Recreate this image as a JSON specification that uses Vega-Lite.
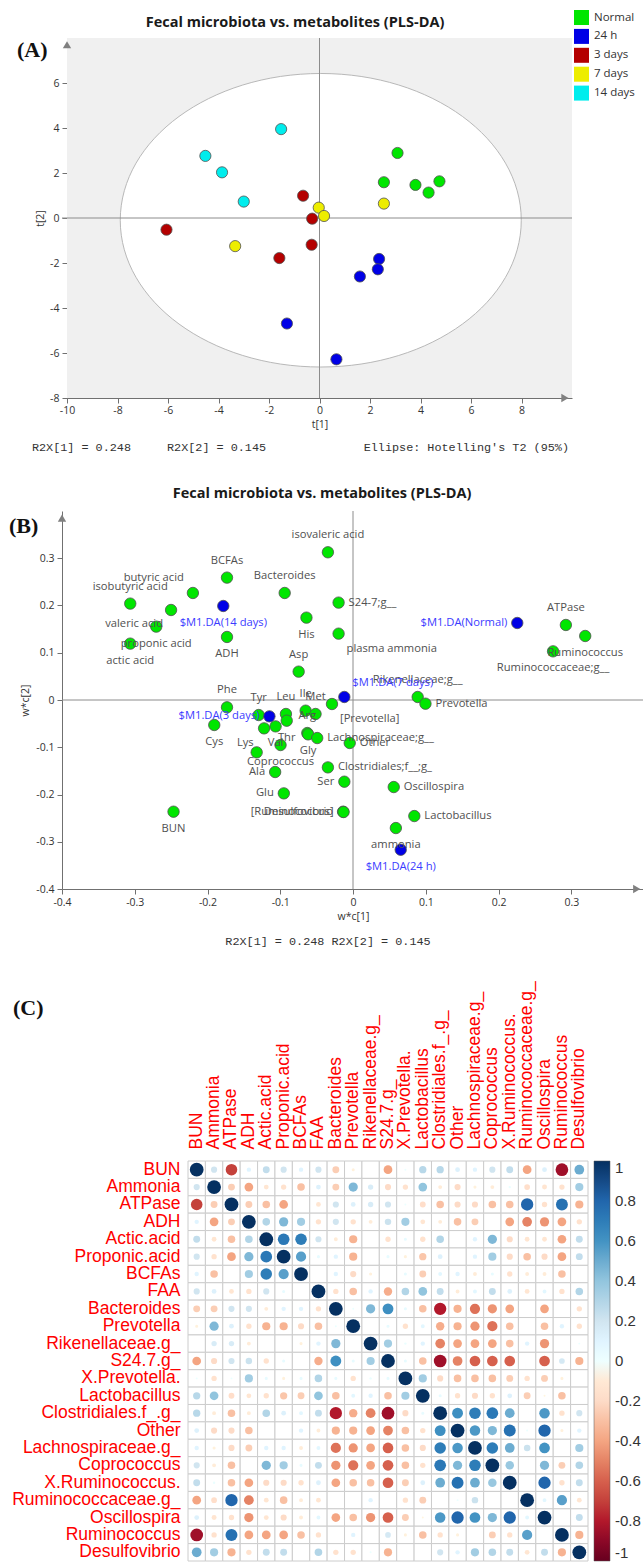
{
"$schema": "https://vega.github.io/schema/vega-lite/v6.json",
"padding": {"left": 8, "top": 10, "right": 0, "bottom": 0},
"config": {"view": {"stroke": null}, "axis": {"grid": false}, "font": "Open Sans"},
"columns": 1,
"align": "none",
"spacing": 32,
"concat": [
{
 "width": 510, "height": 360,
 "title": {"text": "Fecal microbiota vs. metabolites  (PLS-DA)", "font": "Open Sans", "fontSize": 14.5, "fontWeight": "bold", "color": "#1a1a1a", "anchor": "middle", "dx": -22, "dy": 29, "offset": 9},
 "layer": [
  {"data": {"values": [{}]}, "mark": {"type": "rect", "fill": "#f0f0f0"}, "encoding": {"x": {"datum": -10, "type": "quantitative"}, "x2": {"datum": 10}, "y": {"datum": -8, "type": "quantitative"}, "y2": {"datum": 8}}},
  {"data": {"values": [{}]}, "mark": {"type": "point", "shape": "M-1,0C-1,-0.404,-0.552,-0.732,0,-0.732C0.552,-0.732,1,-0.404,1,0C1,0.404,0.552,0.732,0,0.732C-0.552,0.732,-1,0.404,-1,0Z", "size": 160801, "filled": true, "fill": "white", "stroke": "#b8b8b8", "strokeWidth": 1, "opacity": 1}, "encoding": {"x": {"datum": 0.05, "type": "quantitative"}, "y": {"datum": -0.1, "type": "quantitative"}}},
  {"data": {"values": [{}]}, "mark": {"type": "rule", "color": "#8c8c8c", "strokeWidth": 1}, "encoding": {"x": {"datum": 0, "type": "quantitative"}}},
  {"data": {"values": [{}]}, "mark": {"type": "rule", "color": "#8c8c8c", "strokeWidth": 1}, "encoding": {"y": {"datum": 0, "type": "quantitative"}}},
  {"data": {"values": [
   {"grp":"Normal","t1":3.09,"t2":2.89},{"grp":"Normal","t1":2.55,"t2":1.59},{"grp":"Normal","t1":3.8,"t2":1.47},{"grp":"Normal","t1":4.32,"t2":1.13},{"grp":"Normal","t1":4.75,"t2":1.63},
   {"grp":"24 h","t1":2.36,"t2":-1.82},{"grp":"24 h","t1":2.31,"t2":-2.28},{"grp":"24 h","t1":1.6,"t2":-2.6},{"grp":"24 h","t1":-1.29,"t2":-4.69},{"grp":"24 h","t1":0.67,"t2":-6.28},
   {"grp":"3 days","t1":-0.65,"t2":0.99},{"grp":"3 days","t1":-0.29,"t2":-0.03},{"grp":"3 days","t1":-6.06,"t2":-0.52},{"grp":"3 days","t1":-0.31,"t2":-1.19},{"grp":"3 days","t1":-1.59,"t2":-1.78},
   {"grp":"7 days","t1":-0.03,"t2":0.46},{"grp":"7 days","t1":0.18,"t2":0.09},{"grp":"7 days","t1":2.55,"t2":0.64},{"grp":"7 days","t1":-3.34,"t2":-1.25},
   {"grp":"14 days","t1":-1.52,"t2":3.95},{"grp":"14 days","t1":-4.52,"t2":2.76},{"grp":"14 days","t1":-3.86,"t2":2.03},{"grp":"14 days","t1":-3.0,"t2":0.73}
  ]},
  "mark": {"type": "point", "filled": true, "size": 125, "opacity": 1, "stroke": "#505050", "strokeWidth": 0.8},
  "encoding": {
   "x": {"field": "t1", "type": "quantitative", "title": "t[1]", "scale": {"domain": [-10, 10], "range": [5, 510], "nice": false, "zero": false},
    "axis": {"title": "t[1]", "values": [-10,-9,-8,-7,-6,-5,-4,-3,-2,-1,0,1,2,3,4,5,6,7,8,9], "labelExpr": "datum.value % 2 == 0 ? '' + datum.value : ''", "tickSize": {"condition": {"test": "datum.value % 2 == 0", "value": 5}, "value": 3}, "labelFlush": false, "labelOverlap": false, "domainColor": "#707070", "tickColor": "#707070", "labelColor": "#333333", "labelFont": "Open Sans", "labelFontSize": 10.5, "titleFont": "Open Sans", "titleFontSize": 10.5, "titleFontWeight": "normal", "titleColor": "#333333", "labelPadding": 2, "titlePadding": 4}},
   "y": {"field": "t2", "type": "quantitative", "title": "t[2]", "scale": {"domain": [-8, 8], "nice": false, "zero": false},
    "axis": {"title": "t[2]", "offset": -5, "values": [-8,-7,-6,-5,-4,-3,-2,-1,0,1,2,3,4,5,6,7], "labelExpr": "datum.value % 2 == 0 ? '' + datum.value : ''", "tickSize": {"condition": {"test": "datum.value % 2 == 0", "value": 5}, "value": 3}, "labelFlush": false, "labelOverlap": false, "domainColor": "#707070", "tickColor": "#707070", "labelColor": "#333333", "labelFont": "Open Sans", "labelFontSize": 10.5, "titleFont": "Open Sans", "titleFontSize": 10.5, "titleFontWeight": "normal", "titleColor": "#333333", "labelPadding": 3, "titlePadding": 4}},
   "color": {"field": "grp", "type": "nominal", "scale": {"domain": ["Normal","24 h","3 days","7 days","14 days"], "range": ["#00e600","#0000e6","#b40000","#eded00","#00eded"]},
    "legend": {"title": null, "orient": "none", "legendX": 512, "legendY": -28, "symbolType": "square", "symbolSize": 225, "symbolStrokeWidth": 0, "symbolOpacity": 1, "labelFont": "Open Sans", "labelFontSize": 11.5, "labelColor": "#333333", "rowPadding": 3.9, "labelOffset": 5}}
  }},
  {"data": {"values": [{}]}, "mark": {"type": "point", "shape": "triangle-right", "filled": true, "size": 70, "color": "#808080", "opacity": 1}, "encoding": {"x": {"datum": 9.72, "type": "quantitative"}, "y": {"datum": -8, "type": "quantitative"}}},
  {"data": {"values": [{}]}, "mark": {"type": "point", "shape": "triangle-up", "filled": true, "size": 70, "color": "#808080", "opacity": 1}, "encoding": {"x": {"datum": -10, "type": "quantitative"}, "y": {"datum": 7.7, "type": "quantitative"}}},
  {"data": {"values": [{}]}, "mark": {"type": "text", "text": "(A)", "font": "Liberation Serif", "fontSize": 22, "fontWeight": "bold", "align": "left", "baseline": "middle", "color": "#111111"}, "encoding": {"x": {"datum": -11.98, "type": "quantitative"}, "y": {"datum": 7.45, "type": "quantitative"}}},
  {"data": {"values": [{}]}, "mark": {"type": "text", "text": "R2X[1] = 0.248", "font": "Liberation Mono", "fontSize": 11.8, "align": "left", "baseline": "middle", "color": "#333333"}, "encoding": {"x": {"datum": -11.39, "type": "quantitative"}, "y": {"datum": -10.18, "type": "quantitative"}}},
  {"data": {"values": [{}]}, "mark": {"type": "text", "text": "R2X[2] = 0.145", "font": "Liberation Mono", "fontSize": 11.8, "align": "left", "baseline": "middle", "color": "#333333"}, "encoding": {"x": {"datum": -6.04, "type": "quantitative"}, "y": {"datum": -10.18, "type": "quantitative"}}},
  {"data": {"values": [{}]}, "mark": {"type": "text", "text": "Ellipse: Hotelling's T2 (95%)", "font": "Liberation Mono", "fontSize": 11.8, "align": "right", "baseline": "middle", "color": "#333333"}, "encoding": {"x": {"datum": 9.88, "type": "quantitative"}, "y": {"datum": -10.18, "type": "quantitative"}}}
 ]
},
{
 "width": 582, "height": 378,
 "title": {"text": "Fecal microbiota vs. metabolites  (PLS-DA)", "font": "Open Sans", "fontSize": 14.5, "fontWeight": "bold", "color": "#1a1a1a", "anchor": "middle", "dx": -31, "offset": 9},
 "data": {"values": [
  {"n":"isovaleric acid","x":-0.0345,"y":0.3126,"g":"v","s":"above"},
  {"n":"BCFAs","x":-0.1732,"y":0.259,"g":"v","s":"above"},
  {"n":"Bacteroides","x":-0.0939,"y":0.2265,"g":"v","s":"above"},
  {"n":"S24-7;g__","x":-0.0198,"y":0.2061,"g":"v","s":"right"},
  {"n":"His","x":-0.064,"y":0.1743,"g":"v","s":"below"},
  {"n":"plasma ammonia","x":-0.0198,"y":0.1404,"g":"v","s":"belowright"},
  {"n":"ADH","x":-0.1732,"y":0.1334,"g":"v","s":"below"},
  {"n":"Asp","x":-0.0747,"y":0.06,"g":"v","s":"above"},
  {"n":"isobutyric acid","x":-0.3062,"y":0.204,"g":"v","s":"above"},
  {"n":"butyric acid","x":-0.2201,"y":0.2265,"g":"v","s":"aboveleft"},
  {"n":"valeric acid","x":-0.2501,"y":0.1905,"g":"v","s":"belowleft"},
  {"n":"proponic acid","x":-0.2705,"y":0.1553,"g":"v","s":"below"},
  {"n":"actic acid","x":-0.3062,"y":0.1193,"g":"v","s":"below"},
  {"n":"ATPase","x":0.2926,"y":0.1588,"g":"v","s":"above"},
  {"n":"Ruminococcus","x":0.3192,"y":0.1355,"g":"v","s":"below"},
  {"n":"Ruminococcaceae;g__","x":0.275,"y":0.103,"g":"v","s":"below"},
  {"n":"Rikenellaceae;g__","x":0.0889,"y":0.0064,"g":"v","s":"above"},
  {"n":"Prevotella","x":0.0996,"y":-0.0078,"g":"v","s":"right"},
  {"n":"Phe","x":-0.1732,"y":-0.0155,"g":"v","s":"above"},
  {"n":"Cys","x":-0.1907,"y":-0.0529,"g":"v","s":"below"},
  {"n":"Tyr","x":-0.1296,"y":-0.0318,"g":"v","s":"above"},
  {"n":"Leu","x":-0.0922,"y":-0.0296,"g":"v","s":"above"},
  {"n":"Thr","x":-0.0911,"y":-0.0438,"g":"v","s":"below"},
  {"n":"Ile","x":-0.0651,"y":-0.0226,"g":"v","s":"above"},
  {"n":"Met","x":-0.0515,"y":-0.0296,"g":"v","s":"above"},
  {"n":"[Prevotella]","x":-0.0289,"y":-0.0085,"g":"v","s":"belowright"},
  {"n":"","x":-0.1222,"y":-0.06,"g":"v","s":"none"},
  {"n":"Val","x":-0.1064,"y":-0.0558,"g":"v","s":"below"},
  {"n":"Coprococcus","x":-0.0996,"y":-0.0953,"g":"v","s":"below"},
  {"n":"Arg","x":-0.0628,"y":-0.0699,"g":"v","s":"above"},
  {"n":"Gly","x":-0.0617,"y":-0.0727,"g":"v","s":"below"},
  {"n":"Lachnospiraceae;g__","x":-0.0492,"y":-0.0805,"g":"v","s":"right"},
  {"n":"Lys","x":-0.1324,"y":-0.1108,"g":"v","s":"upleft"},
  {"n":"Other","x":-0.0045,"y":-0.091,"g":"v","s":"right"},
  {"n":"Clostridiales;f__;g_","x":-0.0345,"y":-0.1426,"g":"v","s":"right"},
  {"n":"Ala","x":-0.107,"y":-0.1524,"g":"v","s":"left"},
  {"n":"Ser","x":-0.0119,"y":-0.1729,"g":"v","s":"left"},
  {"n":"Oscillospira","x":0.056,"y":-0.1842,"g":"v","s":"right"},
  {"n":"Glu","x":-0.0951,"y":-0.1976,"g":"v","s":"left"},
  {"n":"BUN","x":-0.2467,"y":-0.2364,"g":"v","s":"below"},
  {"n":"Desulfovibrio","x":-0.0136,"y":-0.2364,"g":"v","s":"left"},
  {"n":"[Ruminococcus]","x":-0.013,"y":-0.2371,"g":"v","s":"left"},
  {"n":"Lactobacillus","x":0.0843,"y":-0.2456,"g":"v","s":"right"},
  {"n":"ammonia","x":0.0589,"y":-0.271,"g":"v","s":"below"},
  {"n":"$M1.DA(14 days)","x":-0.1783,"y":0.199,"g":"c","s":"below"},
  {"n":"$M1.DA(Normal)","x":0.2258,"y":0.163,"g":"c","s":"left"},
  {"n":"$M1.DA(7 days)","x":-0.0119,"y":0.0064,"g":"c","s":"aboveright"},
  {"n":"$M1.DA(3 days)","x":-0.1149,"y":-0.0346,"g":"c","s":"left"},
  {"n":"$M1.DA(24 h)","x":0.0656,"y":-0.3169,"g":"c","s":"below"}
 ]},
 "layer": [
  {"data": {"values": [{}]}, "mark": {"type": "rule", "color": "#8c8c8c", "strokeWidth": 1}, "encoding": {"x": {"datum": 0, "type": "quantitative"}}},
  {"data": {"values": [{}]}, "mark": {"type": "rule", "color": "#8c8c8c", "strokeWidth": 1}, "encoding": {"y": {"datum": 0, "type": "quantitative"}}},
  {"mark": {"type": "point", "filled": true, "size": 130, "opacity": 1, "stroke": "#505050", "strokeWidth": 0.8},
   "encoding": {
    "x": {"field": "x", "type": "quantitative", "title": "w*c[1]", "scale": {"domain": [-0.4, 0.4], "nice": false, "zero": false},
     "axis": {"title": "w*c[1]", "values": [-0.4,-0.35,-0.3,-0.25,-0.2,-0.15,-0.1,-0.05,0,0.05,0.1,0.15,0.2,0.25,0.3,0.35], "labelExpr": "abs(round(datum.value*100)) % 10 == 0 ? '' + round(datum.value*10)/10 : ''", "tickSize": {"condition": {"test": "abs(round(datum.value*100)) % 10 == 0", "value": 5}, "value": 3}, "labelFlush": false, "labelOverlap": false, "domainColor": "#707070", "tickColor": "#707070", "labelColor": "#333333", "labelFont": "Open Sans", "labelFontSize": 10.5, "titleFont": "Open Sans", "titleFontSize": 10.5, "titleFontWeight": "normal", "titleColor": "#333333", "labelPadding": 3, "titlePadding": 4}},
    "y": {"field": "y", "type": "quantitative", "title": "w*c[2]", "scale": {"domain": [-0.4, 0.4], "nice": false, "zero": false},
     "axis": {"title": "w*c[2]", "values": [-0.4,-0.35,-0.3,-0.25,-0.2,-0.15,-0.1,-0.05,0,0.05,0.1,0.15,0.2,0.25,0.3,0.35], "labelExpr": "abs(round(datum.value*100)) % 10 == 0 ? '' + round(datum.value*10)/10 : ''", "tickSize": {"condition": {"test": "abs(round(datum.value*100)) % 10 == 0", "value": 5}, "value": 3}, "labelFlush": false, "labelOverlap": false, "domainColor": "#707070", "tickColor": "#707070", "labelColor": "#333333", "labelFont": "Open Sans", "labelFontSize": 10.5, "titleFont": "Open Sans", "titleFontSize": 10.5, "titleFontWeight": "normal", "titleColor": "#333333", "labelPadding": 3, "titlePadding": 5}},
    "fill": {"condition": {"test": "datum.g == 'c'", "value": "#0000e6"}, "value": "#00e600"}
   }},
  {"transform": [{"filter": "datum.s == 'above'"}], "mark": {"type": "text", "align": "center", "baseline": "middle", "dy": -17, "font": "Open Sans", "fontSize": 11.2},
   "encoding": {"x": {"field": "x", "type": "quantitative", "title": "w*c[1]"}, "y": {"field": "y", "type": "quantitative", "title": "w*c[2]"}, "text": {"field": "n"}, "color": {"condition": {"test": "datum.g == 'c'", "value": "#3b3bff"}, "value": "#505050"}}},
  {"transform": [{"filter": "datum.s == 'below'"}], "mark": {"type": "text", "align": "center", "baseline": "middle", "dy": 17, "font": "Open Sans", "fontSize": 11.2},
   "encoding": {"x": {"field": "x", "type": "quantitative", "title": "w*c[1]"}, "y": {"field": "y", "type": "quantitative", "title": "w*c[2]"}, "text": {"field": "n"}, "color": {"condition": {"test": "datum.g == 'c'", "value": "#3b3bff"}, "value": "#505050"}}},
  {"transform": [{"filter": "datum.s == 'right'"}], "mark": {"type": "text", "align": "left", "baseline": "middle", "dx": 10, "font": "Open Sans", "fontSize": 11.2},
   "encoding": {"x": {"field": "x", "type": "quantitative", "title": "w*c[1]"}, "y": {"field": "y", "type": "quantitative", "title": "w*c[2]"}, "text": {"field": "n"}, "color": {"condition": {"test": "datum.g == 'c'", "value": "#3b3bff"}, "value": "#505050"}}},
  {"transform": [{"filter": "datum.s == 'left'"}], "mark": {"type": "text", "align": "right", "baseline": "middle", "dx": -10, "font": "Open Sans", "fontSize": 11.2},
   "encoding": {"x": {"field": "x", "type": "quantitative", "title": "w*c[1]"}, "y": {"field": "y", "type": "quantitative", "title": "w*c[2]"}, "text": {"field": "n"}, "color": {"condition": {"test": "datum.g == 'c'", "value": "#3b3bff"}, "value": "#505050"}}},
  {"transform": [{"filter": "datum.s == 'aboveleft'"}], "mark": {"type": "text", "align": "right", "baseline": "middle", "dx": -9, "dy": -15, "font": "Open Sans", "fontSize": 11.2},
   "encoding": {"x": {"field": "x", "type": "quantitative", "title": "w*c[1]"}, "y": {"field": "y", "type": "quantitative", "title": "w*c[2]"}, "text": {"field": "n"}, "color": {"condition": {"test": "datum.g == 'c'", "value": "#3b3bff"}, "value": "#505050"}}},
  {"transform": [{"filter": "datum.s == 'belowleft'"}], "mark": {"type": "text", "align": "right", "baseline": "middle", "dx": -8, "dy": 14, "font": "Open Sans", "fontSize": 11.2},
   "encoding": {"x": {"field": "x", "type": "quantitative", "title": "w*c[1]"}, "y": {"field": "y", "type": "quantitative", "title": "w*c[2]"}, "text": {"field": "n"}, "color": {"condition": {"test": "datum.g == 'c'", "value": "#3b3bff"}, "value": "#505050"}}},
  {"transform": [{"filter": "datum.s == 'belowright'"}], "mark": {"type": "text", "align": "left", "baseline": "middle", "dx": 8, "dy": 15, "font": "Open Sans", "fontSize": 11.2},
   "encoding": {"x": {"field": "x", "type": "quantitative", "title": "w*c[1]"}, "y": {"field": "y", "type": "quantitative", "title": "w*c[2]"}, "text": {"field": "n"}, "color": {"condition": {"test": "datum.g == 'c'", "value": "#3b3bff"}, "value": "#505050"}}},
  {"transform": [{"filter": "datum.s == 'aboveright'"}], "mark": {"type": "text", "align": "left", "baseline": "middle", "dx": 8, "dy": -14, "font": "Open Sans", "fontSize": 11.2},
   "encoding": {"x": {"field": "x", "type": "quantitative", "title": "w*c[1]"}, "y": {"field": "y", "type": "quantitative", "title": "w*c[2]"}, "text": {"field": "n"}, "color": {"condition": {"test": "datum.g == 'c'", "value": "#3b3bff"}, "value": "#505050"}}},
  {"transform": [{"filter": "datum.s == 'upleft'"}], "mark": {"type": "text", "align": "right", "baseline": "middle", "dx": -3, "dy": -9, "font": "Open Sans", "fontSize": 11.2},
   "encoding": {"x": {"field": "x", "type": "quantitative", "title": "w*c[1]"}, "y": {"field": "y", "type": "quantitative", "title": "w*c[2]"}, "text": {"field": "n"}, "color": {"condition": {"test": "datum.g == 'c'", "value": "#3b3bff"}, "value": "#505050"}}},
  {"data": {"values": [{}]}, "mark": {"type": "point", "shape": "triangle-right", "filled": true, "size": 70, "color": "#808080", "opacity": 1}, "encoding": {"x": {"datum": 0.39, "type": "quantitative"}, "y": {"datum": -0.4, "type": "quantitative"}}},
  {"data": {"values": [{}]}, "mark": {"type": "point", "shape": "triangle-up", "filled": true, "size": 70, "color": "#808080", "opacity": 1}, "encoding": {"x": {"datum": -0.4, "type": "quantitative"}, "y": {"datum": 0.385, "type": "quantitative"}}},
  {"data": {"values": [{}]}, "mark": {"type": "text", "text": "(B)", "font": "Liberation Serif", "fontSize": 22, "fontWeight": "bold", "align": "left", "baseline": "middle", "color": "#111111"}, "encoding": {"x": {"datum": -0.4729, "type": "quantitative"}, "y": {"datum": 0.368, "type": "quantitative"}}},
  {"data": {"values": [{}]}, "mark": {"type": "text", "text": "R2X[1] = 0.248 R2X[2] = 0.145", "font": "Liberation Mono", "fontSize": 11.8, "align": "center", "baseline": "middle", "color": "#333333"}, "encoding": {"x": {"datum": -0.0344, "type": "quantitative"}, "y": {"datum": -0.51, "type": "quantitative"}}}
 ]
},
{
 "width": 526, "height": 400,
 "title": {"text": "(C)", "anchor": "start", "frame": "group", "dx": -49, "dy": 39, "font": "Liberation Serif", "fontSize": 22, "fontWeight": "bold", "color": "#111111", "offset": 0},
 "data": {"values": [
{"a":"BUN","b":"BUN","r":1},{"a":"BUN","b":"Ammonia","r":0.2},{"a":"BUN","b":"ATPase","r":-0.7},{"a":"BUN","b":"ADH","r":0.1},{"a":"BUN","b":"Actic.acid","r":0.25},{"a":"BUN","b":"Proponic.acid","r":0.2},{"a":"BUN","b":"BCFAs","r":0.1},{"a":"BUN","b":"FAA","r":0.2},{"a":"BUN","b":"Bacteroides","r":-0.25},{"a":"BUN","b":"Prevotella","r":-0.05},{"a":"BUN","b":"Rikenellaceae.g_","r":0},{"a":"BUN","b":"S24.7.g_","r":-0.4},{"a":"BUN","b":"X.Prevotella.","r":0.02},{"a":"BUN","b":"Lactobacillus","r":0.28},{"a":"BUN","b":"Clostridiales.f_.g_","r":0.28},{"a":"BUN","b":"Other","r":0.12},{"a":"BUN","b":"Lachnospiraceae.g_","r":0.1},{"a":"BUN","b":"Coprococcus","r":0.2},{"a":"BUN","b":"X.Ruminococcus.","r":0.25},{"a":"BUN","b":"Ruminococcaceae.g_","r":-0.4},{"a":"BUN","b":"Oscillospira","r":0.12},{"a":"BUN","b":"Ruminococcus","r":-0.85},{"a":"BUN","b":"Desulfovibrio","r":0.5},
{"a":"Ammonia","b":"BUN","r":0.2},{"a":"Ammonia","b":"Ammonia","r":1},{"a":"Ammonia","b":"ATPase","r":-0.25},{"a":"Ammonia","b":"ADH","r":-0.4},{"a":"Ammonia","b":"Actic.acid","r":-0.12},{"a":"Ammonia","b":"Proponic.acid","r":-0.15},{"a":"Ammonia","b":"BCFAs","r":-0.3},{"a":"Ammonia","b":"FAA","r":0.12},{"a":"Ammonia","b":"Bacteroides","r":-0.25},{"a":"Ammonia","b":"Prevotella","r":0.45},{"a":"Ammonia","b":"Rikenellaceae.g_","r":0.15},{"a":"Ammonia","b":"S24.7.g_","r":-0.2},{"a":"Ammonia","b":"X.Prevotella.","r":-0.15},{"a":"Ammonia","b":"Lactobacillus","r":0.4},{"a":"Ammonia","b":"Clostridiales.f_.g_","r":-0.08},{"a":"Ammonia","b":"Other","r":-0.2},{"a":"Ammonia","b":"Lachnospiraceae.g_","r":-0.05},{"a":"Ammonia","b":"Coprococcus","r":-0.08},{"a":"Ammonia","b":"X.Ruminococcus.","r":0.03},{"a":"Ammonia","b":"Ruminococcaceae.g_","r":-0.17},{"a":"Ammonia","b":"Oscillospira","r":-0.13},{"a":"Ammonia","b":"Ruminococcus","r":-0.15},{"a":"Ammonia","b":"Desulfovibrio","r":0.35},
{"a":"ATPase","b":"BUN","r":-0.7},{"a":"ATPase","b":"Ammonia","r":-0.25},{"a":"ATPase","b":"ATPase","r":1},{"a":"ATPase","b":"ADH","r":-0.25},{"a":"ATPase","b":"Actic.acid","r":-0.3},{"a":"ATPase","b":"Proponic.acid","r":-0.4},{"a":"ATPase","b":"BCFAs","r":0},{"a":"ATPase","b":"FAA","r":-0.12},{"a":"ATPase","b":"Bacteroides","r":0.2},{"a":"ATPase","b":"Prevotella","r":0.12},{"a":"ATPase","b":"Rikenellaceae.g_","r":0.15},{"a":"ATPase","b":"S24.7.g_","r":0.2},{"a":"ATPase","b":"X.Prevotella.","r":0.02},{"a":"ATPase","b":"Lactobacillus","r":-0.18},{"a":"ATPase","b":"Clostridiales.f_.g_","r":-0.3},{"a":"ATPase","b":"Other","r":-0.2},{"a":"ATPase","b":"Lachnospiraceae.g_","r":-0.2},{"a":"ATPase","b":"Coprococcus","r":-0.3},{"a":"ATPase","b":"X.Ruminococcus.","r":-0.3},{"a":"ATPase","b":"Ruminococcaceae.g_","r":0.8},{"a":"ATPase","b":"Oscillospira","r":-0.15},{"a":"ATPase","b":"Ruminococcus","r":0.75},{"a":"ATPase","b":"Desulfovibrio","r":-0.35},
{"a":"ADH","b":"BUN","r":0.1},{"a":"ADH","b":"Ammonia","r":-0.4},{"a":"ADH","b":"ATPase","r":-0.25},{"a":"ADH","b":"ADH","r":1},{"a":"ADH","b":"Actic.acid","r":0.3},{"a":"ADH","b":"Proponic.acid","r":0.45},{"a":"ADH","b":"BCFAs","r":0.35},{"a":"ADH","b":"FAA","r":-0.15},{"a":"ADH","b":"Bacteroides","r":0.2},{"a":"ADH","b":"Prevotella","r":-0.15},{"a":"ADH","b":"Rikenellaceae.g_","r":-0.08},{"a":"ADH","b":"S24.7.g_","r":0.22},{"a":"ADH","b":"X.Prevotella.","r":0.35},{"a":"ADH","b":"Lactobacillus","r":-0.12},{"a":"ADH","b":"Clostridiales.f_.g_","r":-0.08},{"a":"ADH","b":"Other","r":-0.3},{"a":"ADH","b":"Lachnospiraceae.g_","r":-0.25},{"a":"ADH","b":"Coprococcus","r":0},{"a":"ADH","b":"X.Ruminococcus.","r":-0.4},{"a":"ADH","b":"Ruminococcaceae.g_","r":-0.5},{"a":"ADH","b":"Oscillospira","r":-0.45},{"a":"ADH","b":"Ruminococcus","r":-0.4},{"a":"ADH","b":"Desulfovibrio","r":-0.15},
{"a":"Actic.acid","b":"BUN","r":0.25},{"a":"Actic.acid","b":"Ammonia","r":-0.12},{"a":"Actic.acid","b":"ATPase","r":-0.3},{"a":"Actic.acid","b":"ADH","r":0.3},{"a":"Actic.acid","b":"Actic.acid","r":1},{"a":"Actic.acid","b":"Proponic.acid","r":0.72},{"a":"Actic.acid","b":"BCFAs","r":0.7},{"a":"Actic.acid","b":"FAA","r":0.2},{"a":"Actic.acid","b":"Bacteroides","r":-0.08},{"a":"Actic.acid","b":"Prevotella","r":-0.35},{"a":"Actic.acid","b":"Rikenellaceae.g_","r":0},{"a":"Actic.acid","b":"S24.7.g_","r":-0.15},{"a":"Actic.acid","b":"X.Prevotella.","r":0.05},{"a":"Actic.acid","b":"Lactobacillus","r":-0.15},{"a":"Actic.acid","b":"Clostridiales.f_.g_","r":0.3},{"a":"Actic.acid","b":"Other","r":0},{"a":"Actic.acid","b":"Lachnospiraceae.g_","r":0.1},{"a":"Actic.acid","b":"Coprococcus","r":0.45},{"a":"Actic.acid","b":"X.Ruminococcus.","r":-0.2},{"a":"Actic.acid","b":"Ruminococcaceae.g_","r":-0.12},{"a":"Actic.acid","b":"Oscillospira","r":-0.12},{"a":"Actic.acid","b":"Ruminococcus","r":-0.4},{"a":"Actic.acid","b":"Desulfovibrio","r":0.25},
{"a":"Proponic.acid","b":"BUN","r":0.2},{"a":"Proponic.acid","b":"Ammonia","r":-0.15},{"a":"Proponic.acid","b":"ATPase","r":-0.4},{"a":"Proponic.acid","b":"ADH","r":0.45},{"a":"Proponic.acid","b":"Actic.acid","r":0.72},{"a":"Proponic.acid","b":"Proponic.acid","r":1},{"a":"Proponic.acid","b":"BCFAs","r":0.55},{"a":"Proponic.acid","b":"FAA","r":0.05},{"a":"Proponic.acid","b":"Bacteroides","r":0.1},{"a":"Proponic.acid","b":"Prevotella","r":-0.35},{"a":"Proponic.acid","b":"Rikenellaceae.g_","r":0},{"a":"Proponic.acid","b":"S24.7.g_","r":0.05},{"a":"Proponic.acid","b":"X.Prevotella.","r":-0.05},{"a":"Proponic.acid","b":"Lactobacillus","r":-0.28},{"a":"Proponic.acid","b":"Clostridiales.f_.g_","r":0.12},{"a":"Proponic.acid","b":"Other","r":0},{"a":"Proponic.acid","b":"Lachnospiraceae.g_","r":0.1},{"a":"Proponic.acid","b":"Coprococcus","r":0.35},{"a":"Proponic.acid","b":"X.Ruminococcus.","r":-0.2},{"a":"Proponic.acid","b":"Ruminococcaceae.g_","r":-0.3},{"a":"Proponic.acid","b":"Oscillospira","r":-0.2},{"a":"Proponic.acid","b":"Ruminococcus","r":-0.4},{"a":"Proponic.acid","b":"Desulfovibrio","r":0.25},
{"a":"BCFAs","b":"BUN","r":0.1},{"a":"BCFAs","b":"Ammonia","r":-0.3},{"a":"BCFAs","b":"ATPase","r":0},{"a":"BCFAs","b":"ADH","r":0.35},{"a":"BCFAs","b":"Actic.acid","r":0.7},{"a":"BCFAs","b":"Proponic.acid","r":0.55},{"a":"BCFAs","b":"BCFAs","r":1},{"a":"BCFAs","b":"FAA","r":0},{"a":"BCFAs","b":"Bacteroides","r":0.1},{"a":"BCFAs","b":"Prevotella","r":-0.2},{"a":"BCFAs","b":"Rikenellaceae.g_","r":-0.05},{"a":"BCFAs","b":"S24.7.g_","r":0},{"a":"BCFAs","b":"X.Prevotella.","r":0.05},{"a":"BCFAs","b":"Lactobacillus","r":-0.25},{"a":"BCFAs","b":"Clostridiales.f_.g_","r":0.08},{"a":"BCFAs","b":"Other","r":0.1},{"a":"BCFAs","b":"Lachnospiraceae.g_","r":-0.08},{"a":"BCFAs","b":"Coprococcus","r":0.05},{"a":"BCFAs","b":"X.Ruminococcus.","r":-0.15},{"a":"BCFAs","b":"Ruminococcaceae.g_","r":-0.08},{"a":"BCFAs","b":"Oscillospira","r":-0.08},{"a":"BCFAs","b":"Ruminococcus","r":-0.3},{"a":"BCFAs","b":"Desulfovibrio","r":0},
{"a":"FAA","b":"BUN","r":0.2},{"a":"FAA","b":"Ammonia","r":0.12},{"a":"FAA","b":"ATPase","r":-0.12},{"a":"FAA","b":"ADH","r":-0.15},{"a":"FAA","b":"Actic.acid","r":0.2},{"a":"FAA","b":"Proponic.acid","r":0.05},{"a":"FAA","b":"BCFAs","r":0},{"a":"FAA","b":"FAA","r":1},{"a":"FAA","b":"Bacteroides","r":-0.15},{"a":"FAA","b":"Prevotella","r":-0.3},{"a":"FAA","b":"Rikenellaceae.g_","r":0.1},{"a":"FAA","b":"S24.7.g_","r":-0.37},{"a":"FAA","b":"X.Prevotella.","r":0.3},{"a":"FAA","b":"Lactobacillus","r":0.4},{"a":"FAA","b":"Clostridiales.f_.g_","r":0.25},{"a":"FAA","b":"Other","r":-0.08},{"a":"FAA","b":"Lachnospiraceae.g_","r":0.08},{"a":"FAA","b":"Coprococcus","r":0.25},{"a":"FAA","b":"X.Ruminococcus.","r":0.12},{"a":"FAA","b":"Ruminococcaceae.g_","r":-0.12},{"a":"FAA","b":"Oscillospira","r":0.08},{"a":"FAA","b":"Ruminococcus","r":-0.15},{"a":"FAA","b":"Desulfovibrio","r":0.3},
{"a":"Bacteroides","b":"BUN","r":-0.25},{"a":"Bacteroides","b":"Ammonia","r":-0.25},{"a":"Bacteroides","b":"ATPase","r":0.2},{"a":"Bacteroides","b":"ADH","r":0.2},{"a":"Bacteroides","b":"Actic.acid","r":-0.08},{"a":"Bacteroides","b":"Proponic.acid","r":0.1},{"a":"Bacteroides","b":"BCFAs","r":0.1},{"a":"Bacteroides","b":"FAA","r":-0.15},{"a":"Bacteroides","b":"Bacteroides","r":1},{"a":"Bacteroides","b":"Prevotella","r":0.02},{"a":"Bacteroides","b":"Rikenellaceae.g_","r":0.45},{"a":"Bacteroides","b":"S24.7.g_","r":0.62},{"a":"Bacteroides","b":"X.Prevotella.","r":0.05},{"a":"Bacteroides","b":"Lactobacillus","r":-0.3},{"a":"Bacteroides","b":"Clostridiales.f_.g_","r":-0.8},{"a":"Bacteroides","b":"Other","r":-0.35},{"a":"Bacteroides","b":"Lachnospiraceae.g_","r":-0.55},{"a":"Bacteroides","b":"Coprococcus","r":-0.45},{"a":"Bacteroides","b":"X.Ruminococcus.","r":-0.4},{"a":"Bacteroides","b":"Ruminococcaceae.g_","r":0},{"a":"Bacteroides","b":"Oscillospira","r":-0.4},{"a":"Bacteroides","b":"Ruminococcus","r":0},{"a":"Bacteroides","b":"Desulfovibrio","r":-0.15},
{"a":"Prevotella","b":"BUN","r":-0.05},{"a":"Prevotella","b":"Ammonia","r":0.45},{"a":"Prevotella","b":"ATPase","r":0.12},{"a":"Prevotella","b":"ADH","r":-0.15},{"a":"Prevotella","b":"Actic.acid","r":-0.35},{"a":"Prevotella","b":"Proponic.acid","r":-0.35},{"a":"Prevotella","b":"BCFAs","r":-0.2},{"a":"Prevotella","b":"FAA","r":-0.3},{"a":"Prevotella","b":"Bacteroides","r":0.02},{"a":"Prevotella","b":"Prevotella","r":1},{"a":"Prevotella","b":"Rikenellaceae.g_","r":0},{"a":"Prevotella","b":"S24.7.g_","r":0.05},{"a":"Prevotella","b":"X.Prevotella.","r":-0.15},{"a":"Prevotella","b":"Lactobacillus","r":0.08},{"a":"Prevotella","b":"Clostridiales.f_.g_","r":-0.37},{"a":"Prevotella","b":"Other","r":-0.35},{"a":"Prevotella","b":"Lachnospiraceae.g_","r":-0.45},{"a":"Prevotella","b":"Coprococcus","r":-0.55},{"a":"Prevotella","b":"X.Ruminococcus.","r":-0.3},{"a":"Prevotella","b":"Ruminococcaceae.g_","r":0},{"a":"Prevotella","b":"Oscillospira","r":-0.3},{"a":"Prevotella","b":"Ruminococcus","r":0.1},{"a":"Prevotella","b":"Desulfovibrio","r":-0.15},
{"a":"Rikenellaceae.g_","b":"BUN","r":0},{"a":"Rikenellaceae.g_","b":"Ammonia","r":0.15},{"a":"Rikenellaceae.g_","b":"ATPase","r":0.15},{"a":"Rikenellaceae.g_","b":"ADH","r":-0.08},{"a":"Rikenellaceae.g_","b":"Actic.acid","r":0},{"a":"Rikenellaceae.g_","b":"Proponic.acid","r":0},{"a":"Rikenellaceae.g_","b":"BCFAs","r":-0.05},{"a":"Rikenellaceae.g_","b":"FAA","r":0.1},{"a":"Rikenellaceae.g_","b":"Bacteroides","r":0.45},{"a":"Rikenellaceae.g_","b":"Prevotella","r":0},{"a":"Rikenellaceae.g_","b":"Rikenellaceae.g_","r":1},{"a":"Rikenellaceae.g_","b":"S24.7.g_","r":0.35},{"a":"Rikenellaceae.g_","b":"X.Prevotella.","r":0.03},{"a":"Rikenellaceae.g_","b":"Lactobacillus","r":0.1},{"a":"Rikenellaceae.g_","b":"Clostridiales.f_.g_","r":-0.5},{"a":"Rikenellaceae.g_","b":"Other","r":-0.4},{"a":"Rikenellaceae.g_","b":"Lachnospiraceae.g_","r":-0.4},{"a":"Rikenellaceae.g_","b":"Coprococcus","r":-0.4},{"a":"Rikenellaceae.g_","b":"X.Ruminococcus.","r":-0.3},{"a":"Rikenellaceae.g_","b":"Ruminococcaceae.g_","r":0.1},{"a":"Rikenellaceae.g_","b":"Oscillospira","r":-0.45},{"a":"Rikenellaceae.g_","b":"Ruminococcus","r":0},{"a":"Rikenellaceae.g_","b":"Desulfovibrio","r":0.02},
{"a":"S24.7.g_","b":"BUN","r":-0.4},{"a":"S24.7.g_","b":"Ammonia","r":-0.2},{"a":"S24.7.g_","b":"ATPase","r":0.2},{"a":"S24.7.g_","b":"ADH","r":0.22},{"a":"S24.7.g_","b":"Actic.acid","r":-0.15},{"a":"S24.7.g_","b":"Proponic.acid","r":0.05},{"a":"S24.7.g_","b":"BCFAs","r":0},{"a":"S24.7.g_","b":"FAA","r":-0.37},{"a":"S24.7.g_","b":"Bacteroides","r":0.62},{"a":"S24.7.g_","b":"Prevotella","r":0.05},{"a":"S24.7.g_","b":"Rikenellaceae.g_","r":0.35},{"a":"S24.7.g_","b":"S24.7.g_","r":1},{"a":"S24.7.g_","b":"X.Prevotella.","r":0.05},{"a":"S24.7.g_","b":"Lactobacillus","r":-0.3},{"a":"S24.7.g_","b":"Clostridiales.f_.g_","r":-0.85},{"a":"S24.7.g_","b":"Other","r":-0.5},{"a":"S24.7.g_","b":"Lachnospiraceae.g_","r":-0.6},{"a":"S24.7.g_","b":"Coprococcus","r":-0.6},{"a":"S24.7.g_","b":"X.Ruminococcus.","r":-0.6},{"a":"S24.7.g_","b":"Ruminococcaceae.g_","r":0},{"a":"S24.7.g_","b":"Oscillospira","r":-0.6},{"a":"S24.7.g_","b":"Ruminococcus","r":0.17},{"a":"S24.7.g_","b":"Desulfovibrio","r":-0.35},
{"a":"X.Prevotella.","b":"BUN","r":0.02},{"a":"X.Prevotella.","b":"Ammonia","r":-0.15},{"a":"X.Prevotella.","b":"ATPase","r":0.02},{"a":"X.Prevotella.","b":"ADH","r":0.35},{"a":"X.Prevotella.","b":"Actic.acid","r":0.05},{"a":"X.Prevotella.","b":"Proponic.acid","r":-0.05},{"a":"X.Prevotella.","b":"BCFAs","r":0.05},{"a":"X.Prevotella.","b":"FAA","r":0.3},{"a":"X.Prevotella.","b":"Bacteroides","r":0.05},{"a":"X.Prevotella.","b":"Prevotella","r":-0.15},{"a":"X.Prevotella.","b":"Rikenellaceae.g_","r":0.03},{"a":"X.Prevotella.","b":"S24.7.g_","r":0.05},{"a":"X.Prevotella.","b":"X.Prevotella.","r":1},{"a":"X.Prevotella.","b":"Lactobacillus","r":0.35},{"a":"X.Prevotella.","b":"Clostridiales.f_.g_","r":-0.2},{"a":"X.Prevotella.","b":"Other","r":-0.3},{"a":"X.Prevotella.","b":"Lachnospiraceae.g_","r":-0.3},{"a":"X.Prevotella.","b":"Coprococcus","r":-0.3},{"a":"X.Prevotella.","b":"X.Ruminococcus.","r":-0.25},{"a":"X.Prevotella.","b":"Ruminococcaceae.g_","r":-0.15},{"a":"X.Prevotella.","b":"Oscillospira","r":-0.25},{"a":"X.Prevotella.","b":"Ruminococcus","r":-0.05},{"a":"X.Prevotella.","b":"Desulfovibrio","r":0},
{"a":"Lactobacillus","b":"BUN","r":0.28},{"a":"Lactobacillus","b":"Ammonia","r":0.4},{"a":"Lactobacillus","b":"ATPase","r":-0.18},{"a":"Lactobacillus","b":"ADH","r":-0.12},{"a":"Lactobacillus","b":"Actic.acid","r":-0.15},{"a":"Lactobacillus","b":"Proponic.acid","r":-0.28},{"a":"Lactobacillus","b":"BCFAs","r":-0.25},{"a":"Lactobacillus","b":"FAA","r":0.4},{"a":"Lactobacillus","b":"Bacteroides","r":-0.3},{"a":"Lactobacillus","b":"Prevotella","r":0.08},{"a":"Lactobacillus","b":"Rikenellaceae.g_","r":0.1},{"a":"Lactobacillus","b":"S24.7.g_","r":-0.3},{"a":"Lactobacillus","b":"X.Prevotella.","r":0.35},{"a":"Lactobacillus","b":"Lactobacillus","r":1},{"a":"Lactobacillus","b":"Clostridiales.f_.g_","r":0.05},{"a":"Lactobacillus","b":"Other","r":-0.15},{"a":"Lactobacillus","b":"Lachnospiraceae.g_","r":-0.2},{"a":"Lactobacillus","b":"Coprococcus","r":-0.15},{"a":"Lactobacillus","b":"X.Ruminococcus.","r":0.12},{"a":"Lactobacillus","b":"Ruminococcaceae.g_","r":-0.25},{"a":"Lactobacillus","b":"Oscillospira","r":-0.02},{"a":"Lactobacillus","b":"Ruminococcus","r":-0.3},{"a":"Lactobacillus","b":"Desulfovibrio","r":0},
{"a":"Clostridiales.f_.g_","b":"BUN","r":0.28},{"a":"Clostridiales.f_.g_","b":"Ammonia","r":-0.08},{"a":"Clostridiales.f_.g_","b":"ATPase","r":-0.3},{"a":"Clostridiales.f_.g_","b":"ADH","r":-0.08},{"a":"Clostridiales.f_.g_","b":"Actic.acid","r":0.3},{"a":"Clostridiales.f_.g_","b":"Proponic.acid","r":0.12},{"a":"Clostridiales.f_.g_","b":"BCFAs","r":0.08},{"a":"Clostridiales.f_.g_","b":"FAA","r":0.25},{"a":"Clostridiales.f_.g_","b":"Bacteroides","r":-0.8},{"a":"Clostridiales.f_.g_","b":"Prevotella","r":-0.37},{"a":"Clostridiales.f_.g_","b":"Rikenellaceae.g_","r":-0.5},{"a":"Clostridiales.f_.g_","b":"S24.7.g_","r":-0.85},{"a":"Clostridiales.f_.g_","b":"X.Prevotella.","r":-0.2},{"a":"Clostridiales.f_.g_","b":"Lactobacillus","r":0.05},{"a":"Clostridiales.f_.g_","b":"Clostridiales.f_.g_","r":1},{"a":"Clostridiales.f_.g_","b":"Other","r":0.62},{"a":"Clostridiales.f_.g_","b":"Lachnospiraceae.g_","r":0.7},{"a":"Clostridiales.f_.g_","b":"Coprococcus","r":0.72},{"a":"Clostridiales.f_.g_","b":"X.Ruminococcus.","r":0.5},{"a":"Clostridiales.f_.g_","b":"Ruminococcaceae.g_","r":0},{"a":"Clostridiales.f_.g_","b":"Oscillospira","r":0.58},{"a":"Clostridiales.f_.g_","b":"Ruminococcus","r":-0.15},{"a":"Clostridiales.f_.g_","b":"Desulfovibrio","r":0.2},
{"a":"Other","b":"BUN","r":0.12},{"a":"Other","b":"Ammonia","r":-0.2},{"a":"Other","b":"ATPase","r":-0.2},{"a":"Other","b":"ADH","r":-0.3},{"a":"Other","b":"Actic.acid","r":0},{"a":"Other","b":"Proponic.acid","r":0},{"a":"Other","b":"BCFAs","r":0.1},{"a":"Other","b":"FAA","r":-0.08},{"a":"Other","b":"Bacteroides","r":-0.35},{"a":"Other","b":"Prevotella","r":-0.35},{"a":"Other","b":"Rikenellaceae.g_","r":-0.4},{"a":"Other","b":"S24.7.g_","r":-0.5},{"a":"Other","b":"X.Prevotella.","r":-0.3},{"a":"Other","b":"Lactobacillus","r":-0.15},{"a":"Other","b":"Clostridiales.f_.g_","r":0.62},{"a":"Other","b":"Other","r":1},{"a":"Other","b":"Lachnospiraceae.g_","r":0.58},{"a":"Other","b":"Coprococcus","r":0.45},{"a":"Other","b":"X.Ruminococcus.","r":0.75},{"a":"Other","b":"Ruminococcaceae.g_","r":0.02},{"a":"Other","b":"Oscillospira","r":0.8},{"a":"Other","b":"Ruminococcus","r":-0.05},{"a":"Other","b":"Desulfovibrio","r":0.1},
{"a":"Lachnospiraceae.g_","b":"BUN","r":0.1},{"a":"Lachnospiraceae.g_","b":"Ammonia","r":-0.05},{"a":"Lachnospiraceae.g_","b":"ATPase","r":-0.2},{"a":"Lachnospiraceae.g_","b":"ADH","r":-0.25},{"a":"Lachnospiraceae.g_","b":"Actic.acid","r":0.1},{"a":"Lachnospiraceae.g_","b":"Proponic.acid","r":0.1},{"a":"Lachnospiraceae.g_","b":"BCFAs","r":-0.08},{"a":"Lachnospiraceae.g_","b":"FAA","r":0.08},{"a":"Lachnospiraceae.g_","b":"Bacteroides","r":-0.55},{"a":"Lachnospiraceae.g_","b":"Prevotella","r":-0.45},{"a":"Lachnospiraceae.g_","b":"Rikenellaceae.g_","r":-0.4},{"a":"Lachnospiraceae.g_","b":"S24.7.g_","r":-0.6},{"a":"Lachnospiraceae.g_","b":"X.Prevotella.","r":-0.3},{"a":"Lachnospiraceae.g_","b":"Lactobacillus","r":-0.2},{"a":"Lachnospiraceae.g_","b":"Clostridiales.f_.g_","r":0.7},{"a":"Lachnospiraceae.g_","b":"Other","r":0.58},{"a":"Lachnospiraceae.g_","b":"Lachnospiraceae.g_","r":1},{"a":"Lachnospiraceae.g_","b":"Coprococcus","r":0.7},{"a":"Lachnospiraceae.g_","b":"X.Ruminococcus.","r":0.5},{"a":"Lachnospiraceae.g_","b":"Ruminococcaceae.g_","r":0.22},{"a":"Lachnospiraceae.g_","b":"Oscillospira","r":0.6},{"a":"Lachnospiraceae.g_","b":"Ruminococcus","r":0},{"a":"Lachnospiraceae.g_","b":"Desulfovibrio","r":0.35},
{"a":"Coprococcus","b":"BUN","r":0.2},{"a":"Coprococcus","b":"Ammonia","r":-0.08},{"a":"Coprococcus","b":"ATPase","r":-0.3},{"a":"Coprococcus","b":"ADH","r":0},{"a":"Coprococcus","b":"Actic.acid","r":0.45},{"a":"Coprococcus","b":"Proponic.acid","r":0.35},{"a":"Coprococcus","b":"BCFAs","r":0.05},{"a":"Coprococcus","b":"FAA","r":0.25},{"a":"Coprococcus","b":"Bacteroides","r":-0.45},{"a":"Coprococcus","b":"Prevotella","r":-0.55},{"a":"Coprococcus","b":"Rikenellaceae.g_","r":-0.4},{"a":"Coprococcus","b":"S24.7.g_","r":-0.6},{"a":"Coprococcus","b":"X.Prevotella.","r":-0.3},{"a":"Coprococcus","b":"Lactobacillus","r":-0.15},{"a":"Coprococcus","b":"Clostridiales.f_.g_","r":0.72},{"a":"Coprococcus","b":"Other","r":0.45},{"a":"Coprococcus","b":"Lachnospiraceae.g_","r":0.7},{"a":"Coprococcus","b":"Coprococcus","r":1},{"a":"Coprococcus","b":"X.Ruminococcus.","r":0.38},{"a":"Coprococcus","b":"Ruminococcaceae.g_","r":0},{"a":"Coprococcus","b":"Oscillospira","r":0.45},{"a":"Coprococcus","b":"Ruminococcus","r":-0.25},{"a":"Coprococcus","b":"Desulfovibrio","r":0.3},
{"a":"X.Ruminococcus.","b":"BUN","r":0.25},{"a":"X.Ruminococcus.","b":"Ammonia","r":0.03},{"a":"X.Ruminococcus.","b":"ATPase","r":-0.3},{"a":"X.Ruminococcus.","b":"ADH","r":-0.4},{"a":"X.Ruminococcus.","b":"Actic.acid","r":-0.2},{"a":"X.Ruminococcus.","b":"Proponic.acid","r":-0.2},{"a":"X.Ruminococcus.","b":"BCFAs","r":-0.15},{"a":"X.Ruminococcus.","b":"FAA","r":0.12},{"a":"X.Ruminococcus.","b":"Bacteroides","r":-0.4},{"a":"X.Ruminococcus.","b":"Prevotella","r":-0.3},{"a":"X.Ruminococcus.","b":"Rikenellaceae.g_","r":-0.3},{"a":"X.Ruminococcus.","b":"S24.7.g_","r":-0.6},{"a":"X.Ruminococcus.","b":"X.Prevotella.","r":-0.25},{"a":"X.Ruminococcus.","b":"Lactobacillus","r":0.12},{"a":"X.Ruminococcus.","b":"Clostridiales.f_.g_","r":0.5},{"a":"X.Ruminococcus.","b":"Other","r":0.75},{"a":"X.Ruminococcus.","b":"Lachnospiraceae.g_","r":0.5},{"a":"X.Ruminococcus.","b":"Coprococcus","r":0.38},{"a":"X.Ruminococcus.","b":"X.Ruminococcus.","r":1},{"a":"X.Ruminococcus.","b":"Ruminococcaceae.g_","r":0},{"a":"X.Ruminococcus.","b":"Oscillospira","r":0.8},{"a":"X.Ruminococcus.","b":"Ruminococcus","r":-0.15},{"a":"X.Ruminococcus.","b":"Desulfovibrio","r":0.25},
{"a":"Ruminococcaceae.g_","b":"BUN","r":-0.4},{"a":"Ruminococcaceae.g_","b":"Ammonia","r":-0.17},{"a":"Ruminococcaceae.g_","b":"ATPase","r":0.8},{"a":"Ruminococcaceae.g_","b":"ADH","r":-0.5},{"a":"Ruminococcaceae.g_","b":"Actic.acid","r":-0.12},{"a":"Ruminococcaceae.g_","b":"Proponic.acid","r":-0.3},{"a":"Ruminococcaceae.g_","b":"BCFAs","r":-0.08},{"a":"Ruminococcaceae.g_","b":"FAA","r":-0.12},{"a":"Ruminococcaceae.g_","b":"Bacteroides","r":0},{"a":"Ruminococcaceae.g_","b":"Prevotella","r":0},{"a":"Ruminococcaceae.g_","b":"Rikenellaceae.g_","r":0.1},{"a":"Ruminococcaceae.g_","b":"S24.7.g_","r":0},{"a":"Ruminococcaceae.g_","b":"X.Prevotella.","r":-0.15},{"a":"Ruminococcaceae.g_","b":"Lactobacillus","r":-0.25},{"a":"Ruminococcaceae.g_","b":"Clostridiales.f_.g_","r":0},{"a":"Ruminococcaceae.g_","b":"Other","r":0.02},{"a":"Ruminococcaceae.g_","b":"Lachnospiraceae.g_","r":0.22},{"a":"Ruminococcaceae.g_","b":"Coprococcus","r":0},{"a":"Ruminococcaceae.g_","b":"X.Ruminococcus.","r":0},{"a":"Ruminococcaceae.g_","b":"Ruminococcaceae.g_","r":1},{"a":"Ruminococcaceae.g_","b":"Oscillospira","r":0.08},{"a":"Ruminococcaceae.g_","b":"Ruminococcus","r":0.55},{"a":"Ruminococcaceae.g_","b":"Desulfovibrio","r":-0.12},
{"a":"Oscillospira","b":"BUN","r":0.12},{"a":"Oscillospira","b":"Ammonia","r":-0.13},{"a":"Oscillospira","b":"ATPase","r":-0.15},{"a":"Oscillospira","b":"ADH","r":-0.45},{"a":"Oscillospira","b":"Actic.acid","r":-0.12},{"a":"Oscillospira","b":"Proponic.acid","r":-0.2},{"a":"Oscillospira","b":"BCFAs","r":-0.08},{"a":"Oscillospira","b":"FAA","r":0.08},{"a":"Oscillospira","b":"Bacteroides","r":-0.4},{"a":"Oscillospira","b":"Prevotella","r":-0.3},{"a":"Oscillospira","b":"Rikenellaceae.g_","r":-0.45},{"a":"Oscillospira","b":"S24.7.g_","r":-0.6},{"a":"Oscillospira","b":"X.Prevotella.","r":-0.25},{"a":"Oscillospira","b":"Lactobacillus","r":-0.02},{"a":"Oscillospira","b":"Clostridiales.f_.g_","r":0.58},{"a":"Oscillospira","b":"Other","r":0.8},{"a":"Oscillospira","b":"Lachnospiraceae.g_","r":0.6},{"a":"Oscillospira","b":"Coprococcus","r":0.45},{"a":"Oscillospira","b":"X.Ruminococcus.","r":0.8},{"a":"Oscillospira","b":"Ruminococcaceae.g_","r":0.08},{"a":"Oscillospira","b":"Oscillospira","r":1},{"a":"Oscillospira","b":"Ruminococcus","r":0},{"a":"Oscillospira","b":"Desulfovibrio","r":0.25},
{"a":"Ruminococcus","b":"BUN","r":-0.85},{"a":"Ruminococcus","b":"Ammonia","r":-0.15},{"a":"Ruminococcus","b":"ATPase","r":0.75},{"a":"Ruminococcus","b":"ADH","r":-0.4},{"a":"Ruminococcus","b":"Actic.acid","r":-0.4},{"a":"Ruminococcus","b":"Proponic.acid","r":-0.4},{"a":"Ruminococcus","b":"BCFAs","r":-0.3},{"a":"Ruminococcus","b":"FAA","r":-0.15},{"a":"Ruminococcus","b":"Bacteroides","r":0},{"a":"Ruminococcus","b":"Prevotella","r":0.1},{"a":"Ruminococcus","b":"Rikenellaceae.g_","r":0},{"a":"Ruminococcus","b":"S24.7.g_","r":0.17},{"a":"Ruminococcus","b":"X.Prevotella.","r":-0.05},{"a":"Ruminococcus","b":"Lactobacillus","r":-0.3},{"a":"Ruminococcus","b":"Clostridiales.f_.g_","r":-0.15},{"a":"Ruminococcus","b":"Other","r":-0.05},{"a":"Ruminococcus","b":"Lachnospiraceae.g_","r":0},{"a":"Ruminococcus","b":"Coprococcus","r":-0.25},{"a":"Ruminococcus","b":"X.Ruminococcus.","r":-0.15},{"a":"Ruminococcus","b":"Ruminococcaceae.g_","r":0.55},{"a":"Ruminococcus","b":"Oscillospira","r":0},{"a":"Ruminococcus","b":"Ruminococcus","r":1},{"a":"Ruminococcus","b":"Desulfovibrio","r":-0.35},
{"a":"Desulfovibrio","b":"BUN","r":0.5},{"a":"Desulfovibrio","b":"Ammonia","r":0.35},{"a":"Desulfovibrio","b":"ATPase","r":-0.35},{"a":"Desulfovibrio","b":"ADH","r":-0.15},{"a":"Desulfovibrio","b":"Actic.acid","r":0.25},{"a":"Desulfovibrio","b":"Proponic.acid","r":0.25},{"a":"Desulfovibrio","b":"BCFAs","r":0},{"a":"Desulfovibrio","b":"FAA","r":0.3},{"a":"Desulfovibrio","b":"Bacteroides","r":-0.15},{"a":"Desulfovibrio","b":"Prevotella","r":-0.15},{"a":"Desulfovibrio","b":"Rikenellaceae.g_","r":0.02},{"a":"Desulfovibrio","b":"S24.7.g_","r":-0.35},{"a":"Desulfovibrio","b":"X.Prevotella.","r":0},{"a":"Desulfovibrio","b":"Lactobacillus","r":0},{"a":"Desulfovibrio","b":"Clostridiales.f_.g_","r":0.2},{"a":"Desulfovibrio","b":"Other","r":0.1},{"a":"Desulfovibrio","b":"Lachnospiraceae.g_","r":0.35},{"a":"Desulfovibrio","b":"Coprococcus","r":0.3},{"a":"Desulfovibrio","b":"X.Ruminococcus.","r":0.25},{"a":"Desulfovibrio","b":"Ruminococcaceae.g_","r":-0.12},{"a":"Desulfovibrio","b":"Oscillospira","r":0.25},{"a":"Desulfovibrio","b":"Ruminococcus","r":-0.35},{"a":"Desulfovibrio","b":"Desulfovibrio","r":1}
 ]},
 "encoding": {
  "x": {"field": "b", "type": "nominal", "sort": null, "scale": {"range": [126, 526], "paddingInner": 0, "paddingOuter": 0},
   "axis": {"orient": "top", "title": null, "labelAngle": -90, "labelColor": "#ff0000", "labelFont": "Liberation Sans", "labelFontSize": 17.5, "ticks": false, "domain": false, "labelPadding": 12, "labelLimit": 400}},
  "y": {"field": "a", "type": "nominal", "sort": null, "scale": {"paddingInner": 0, "paddingOuter": 0},
   "axis": {"title": null, "offset": -126, "labelColor": "#ff0000", "labelFont": "Liberation Sans", "labelFontSize": 17.5, "ticks": false, "domain": false, "labelPadding": 8, "labelLimit": 400}}
 },
 "layer": [
  {"mark": {"type": "rect", "fill": "white", "stroke": "#cccccc", "strokeWidth": 1}},
  {"mark": {"type": "circle", "opacity": 1},
   "encoding": {
    "color": {"field": "r", "type": "quantitative",
     "scale": {"domain": [-1,-0.8,-0.6,-0.4,-0.2,0,0.2,0.4,0.6,0.8,1], "range": ["#67001F","#B2182B","#D6604D","#F4A582","#FDDBC7","#FFFFFF","#D1E5F0","#92C5DE","#4393C3","#2166AC","#053061"]},
     "legend": {"title": null, "orient": "none", "legendX": 532, "legendY": 0, "direction": "vertical", "gradientLength": 400, "gradientThickness": 16, "values": [1,0.8,0.6,0.4,0.2,0,-0.2,-0.4,-0.6,-0.8,-1], "labelExpr": "'' + datum.value", "labelFont": "Liberation Sans", "labelFontSize": 15, "labelColor": "#333333", "labelOffset": 5, "labelOverlap": false, "gradientStrokeColor": "#555555", "gradientStrokeWidth": 0.5}},
    "size": {"field": "r", "type": "quantitative", "scale": {"domain": [-1, 0, 1], "range": [190, 0, 190]}, "legend": null}
   }}
 ]
}
]
}
